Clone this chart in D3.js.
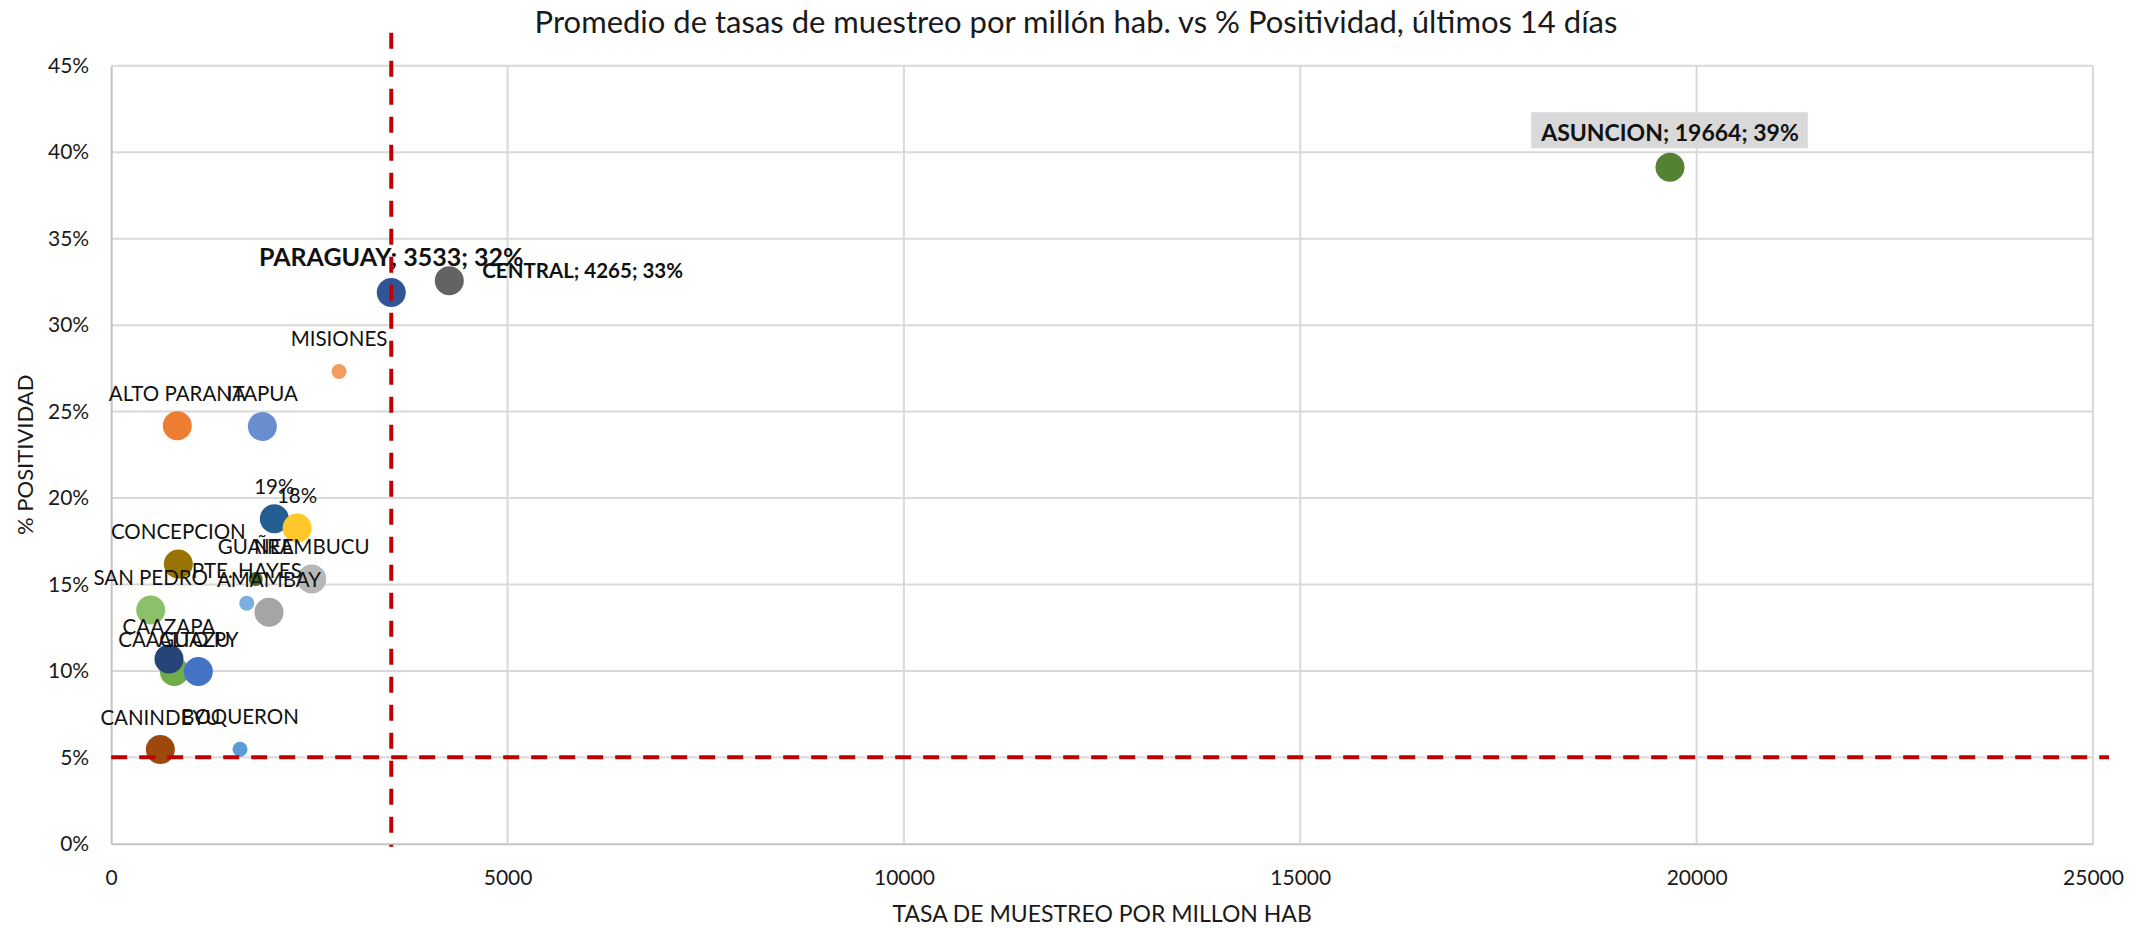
<!DOCTYPE html>
<html>
<head>
<meta charset="utf-8">
<script src="https://cdn.jsdelivr.net/npm/d3@7"></script>
<style>
  html, body { margin: 0; padding: 0; background: #fff; }
  svg { display: block; font-family: Lato, "Open Sans", sans-serif; }
</style>
</head>
<body>
<svg id="chart" width="2152" height="928"></svg>
<script>
// Departamentos: tasa de muestreo por millón hab. y % de positividad (últimos 14 días)
const names = ["ASUNCION", "CENTRAL", "PARAGUAY", "MISIONES", "ALTO PARANA", "ITAPUA",
  "CORDILLERA", "PARAGUARI", "CONCEPCION", "GUAIRA", "ÑEEMBUCU", "PTE. HAYES",
  "AMAMBAY", "SAN PEDRO", "CAAGUAZU", "ALTO PY", "CAAZAPA", "CANINDEYU", "BOQUERON"];
const tasa = [19664, 4265, 3533, 2874, 834, 1907,
  2058, 2345, 847, 1823, 2530, 1710,
  1991, 498, 796, 1099, 729, 620, 1625];
const positividad = [0.3913, 0.3257, 0.3189, 0.2732, 0.2418, 0.2414,
  0.1880, 0.1826, 0.1619, 0.1532, 0.1532, 0.1392,
  0.1340, 0.1353, 0.0996, 0.0996, 0.1069, 0.0545, 0.0547];
// what each data label shows: full = "nombre; tasa; %", name = nombre, pct = %
const labelMode = ["full", "full", "full", "name", "name", "name",
  "pct", "pct", "name", "name", "name", "name",
  "name", "name", "name", "name", "name", "name", "name"];

const xTicks = [0, 5000, 10000, 15000, 20000, 25000];
const yTicks = [0, 0.05, 0.10, 0.15, 0.20, 0.25, 0.30, 0.35, 0.40, 0.45];

// reference thresholds: national average sampling rate and 5% positivity
const refTasa = 3533;
const refPositividad = 0.05;

const title = "Promedio de tasas de muestreo por millón hab. vs % Positividad, últimos 14 días";
const xTitle = "TASA DE MUESTREO POR MILLON HAB";
const yTitle = "% POSITIVIDAD";

// marker appearance per department
const markerStyle = {
  "ASUNCION":   { fill: "#548235", r: 14.5 },
  "CENTRAL":    { fill: "#636363", r: 14.5 },
  "PARAGUAY":   { fill: "#2f5597", r: 14.5 },
  "MISIONES":   { fill: "#f29c5f", r: 7.5 },
  "ALTO PARANA":{ fill: "#ed7d31", r: 14.5 },
  "ITAPUA":     { fill: "#698ed0", r: 14.5 },
  "CORDILLERA": { fill: "#255e91", r: 14.5 },
  "PARAGUARI":  { fill: "#ffc729", r: 14.5 },
  "CONCEPCION": { fill: "#997300", r: 14.5 },
  "GUAIRA":     { fill: "#43682b", r: 7 },
  "ÑEEMBUCU":   { fill: "#b7b7b7", r: 14.5 },
  "PTE. HAYES": { fill: "#7cafdd", r: 7.5 },
  "AMAMBAY":    { fill: "#a5a5a5", r: 14.5 },
  "SAN PEDRO":  { fill: "#8bc169", r: 14.5 },
  "CAAGUAZU":   { fill: "#70ad47", r: 14.5 },
  "ALTO PY":    { fill: "#4472c4", r: 14.5 },
  "CAAZAPA":    { fill: "#264478", r: 14.5 },
  "CANINDEYU":  { fill: "#9e480e", r: 14.5 },
  "BOQUERON":   { fill: "#5b9bd5", r: 7.5 }
};

const data = names.map((n, i) => ({ name: n, x: tasa[i], y: positividad[i], mode: labelMode[i] }));

const svg = d3.select("#chart");
const W = 2152, H = 928;
const plot = { left: 111.2, right: 2093, top: 65.8, bottom: 843.8 };

svg.append("rect").attr("width", W).attr("height", H).attr("fill", "#fff");

const x = d3.scaleLinear().domain([0, 25000]).range([plot.left, plot.right]);
const y = d3.scaleLinear().domain([0, 0.45]).range([plot.bottom, plot.top]);

// gridlines
const grid = svg.append("g");
grid.selectAll("line.h").data(yTicks.filter(d => d > 0)).join("line")
  .attr("x1", plot.left).attr("x2", plot.right)
  .attr("y1", d => y(d)).attr("y2", d => y(d))
  .attr("stroke", "#d9d9d9").attr("stroke-width", 2);
grid.selectAll("line.v").data(xTicks.filter(d => d > 0)).join("line")
  .attr("y1", plot.top).attr("y2", plot.bottom)
  .attr("x1", d => x(d)).attr("x2", d => x(d))
  .attr("stroke", "#d9d9d9").attr("stroke-width", 2);

// axes
const yAxis = svg.append("g").attr("transform", `translate(${plot.left},0)`)
  .call(d3.axisLeft(y).tickValues(yTicks).tickFormat(d3.format(".0%")).tickSize(0).tickPadding(22));
const xAxis = svg.append("g").attr("transform", `translate(0,${plot.bottom})`)
  .call(d3.axisBottom(x).tickValues(xTicks).tickFormat(d3.format("d")).tickSize(0).tickPadding(26));
[xAxis, yAxis].forEach(a => {
  a.select(".domain").attr("stroke", "#c4c4c4").attr("stroke-width", 2);
  a.selectAll("text").attr("font-family", "Lato, sans-serif").attr("font-size", 21).attr("fill", "#1a1a1a");
});

// markers
svg.append("g").selectAll("circle").data(data).join("circle")
  .attr("cx", d => x(d.x)).attr("cy", d => y(d.y))
  .attr("r", d => markerStyle[d.name].r)
  .attr("fill", d => markerStyle[d.name].fill);

// data labels
const pct = d3.format(".0%");
function labelText(d) {
  if (d.mode === "full") return `${d.name}; ${d.x}; ${pct(d.y)}`;
  if (d.mode === "pct") return pct(d.y);
  return d.name;
}
const labels = svg.append("g").attr("fill", "#111");
data.forEach(d => {
  const cx = x(d.x), cy = y(d.y);
  if (d.name === "ASUNCION") {
    const g = labels.append("g");
    const t = g.append("text").attr("x", cx).attr("y", cy - 26)
      .attr("text-anchor", "middle").attr("font-weight", 700).attr("font-size", 23)
      .text(labelText(d));
    const b = t.node().getBBox();
    g.insert("rect", "text")
      .attr("x", b.x - 9).attr("y", b.y - 6)
      .attr("width", b.width + 18).attr("height", b.height + 8)
      .attr("fill", "#d9d9d9");
  } else if (d.name === "PARAGUAY") {
    labels.append("text").attr("x", cx).attr("y", cy - 26)
      .attr("text-anchor", "middle").attr("font-weight", 700).attr("font-size", 25)
      .text(labelText(d));
  } else if (d.name === "CENTRAL") {
    labels.append("text").attr("x", cx + 33).attr("y", cy - 3)
      .attr("text-anchor", "start").attr("font-weight", 700).attr("font-size", 20.5)
      .text(labelText(d));
  } else {
    labels.append("text").attr("x", cx).attr("y", cy - 25)
      .attr("text-anchor", "middle").attr("font-size", 20.5)
      .text(labelText(d));
  }
});

// dashed reference lines
const ref = svg.append("g").attr("stroke", "#c00000").attr("stroke-width", 4)
  .attr("stroke-dasharray", "16 12").attr("fill", "none");
ref.append("line")
  .attr("x1", x(refTasa)).attr("x2", x(refTasa))
  .attr("y1", y(0.45) - 33).attr("y2", y(0) + 3);
ref.append("line")
  .attr("x1", x(0)).attr("x2", x(25000) + 16)
  .attr("y1", y(refPositividad)).attr("y2", y(refPositividad));

// titles
svg.append("text").attr("x", W / 2).attr("y", 33)
  .attr("text-anchor", "middle").attr("font-size", 31).attr("fill", "#1a1a1a")
  .text(title);
svg.append("text").attr("x", (plot.left + plot.right) / 2).attr("y", 922)
  .attr("text-anchor", "middle").attr("font-size", 23).attr("fill", "#1a1a1a")
  .text(xTitle);
svg.append("text").attr("transform", `translate(33,${(plot.top + plot.bottom) / 2}) rotate(-90)`)
  .attr("text-anchor", "middle").attr("font-size", 22).attr("fill", "#1a1a1a")
  .text(yTitle);
</script>
</body>
</html>
